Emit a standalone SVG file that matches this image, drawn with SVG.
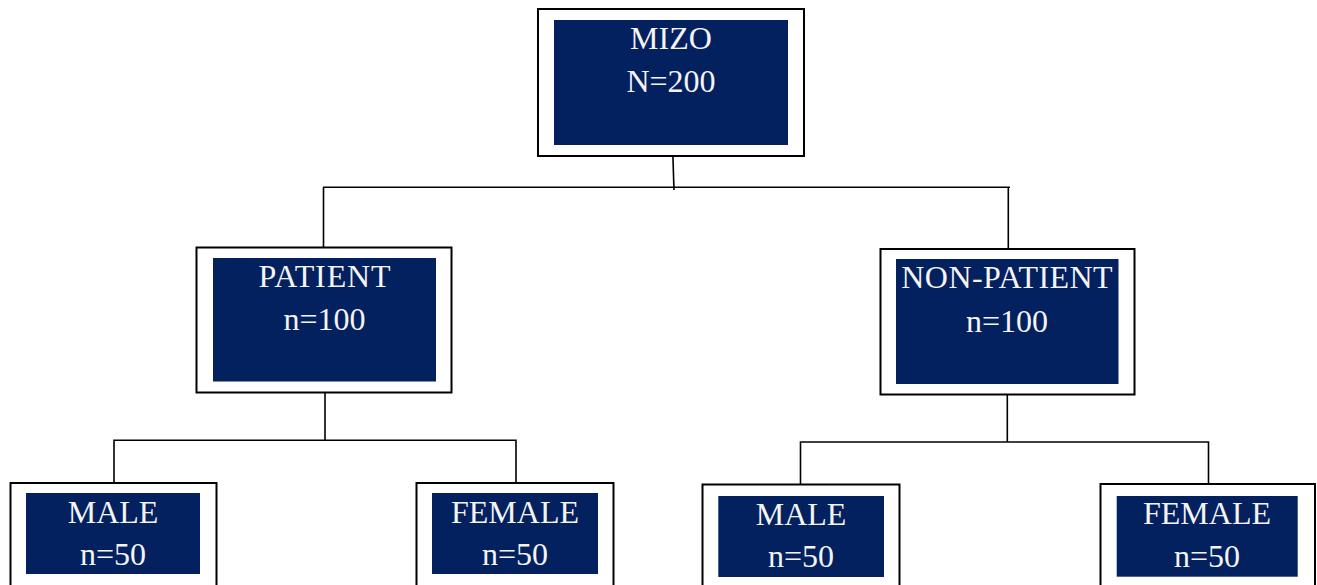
<svg xmlns="http://www.w3.org/2000/svg" width="1317" height="585" viewBox="0 0 1317 585">
<style>
.outer{fill:#ffffff;stroke:#000000;stroke-width:2}
.inner{fill:#02215e}
.t{font-family:"Liberation Serif","Times New Roman",serif;font-size:32px;fill:#f4f4f4;text-anchor:middle}
.c{fill:none;stroke:#000000;stroke-width:1.6}
</style>
<rect width="1317" height="585" fill="#ffffff"/>
<g id="connectors">
<path class="c" d="M672.7 150 L674 190"/>
<path class="c" d="M323 187.3 H1010"/>
<path class="c" d="M323.5 187.3 V247"/>
<path class="c" d="M1008.3 187.3 V249"/>
<path class="c" d="M325 393 V440.3"/>
<path class="c" d="M114 482 V440.3 H516 V482"/>
<path class="c" d="M1007.3 395 V442"/>
<path class="c" d="M800.5 484 V442 H1208.5 V484"/>
</g>
<g id="mizo">
<rect class="outer" x="538" y="9" width="266" height="147"/>
<rect class="inner" x="554" y="20" width="234" height="125"/>
<text class="t" x="671" y="49.3">MIZO</text>
<text class="t" x="671" y="91.7">N=200</text>
</g>
<g id="patient">
<rect class="outer" x="196.5" y="247.5" width="255" height="145"/>
<rect class="inner" x="213" y="258" width="223" height="123.5"/>
<text class="t" x="325" y="286.7" letter-spacing="0.9">PATIENT</text>
<text class="t" x="324.5" y="330">n=100</text>
</g>
<g id="nonpatient">
<rect class="outer" x="880.5" y="249" width="254" height="145.5"/>
<rect class="inner" x="896" y="259" width="222.5" height="125"/>
<text class="t" x="1007.2" y="288.3" letter-spacing="0.45">NON-PATIENT</text>
<text class="t" x="1007" y="331.7">n=100</text>
</g>
<g id="male1">
<rect class="outer" x="10.5" y="483" width="206" height="110"/>
<rect class="inner" x="26" y="493" width="174" height="81"/>
<text class="t" x="113" y="523">MALE</text>
<text class="t" x="113" y="564.5">n=50</text>
</g>
<g id="female1">
<rect class="outer" x="416.5" y="483" width="197" height="110"/>
<rect class="inner" x="432" y="493" width="166" height="81"/>
<text class="t" x="515" y="523.3">FEMALE</text>
<text class="t" x="515" y="565">n=50</text>
</g>
<g id="male2">
<rect class="outer" x="702.5" y="484.5" width="197" height="110"/>
<rect class="inner" x="718.3" y="496" width="165.7" height="81"/>
<text class="t" x="801" y="525">MALE</text>
<text class="t" x="801" y="566.7">n=50</text>
</g>
<g id="female2">
<rect class="outer" x="1100.5" y="484" width="214.5" height="110"/>
<rect class="inner" x="1116.7" y="496" width="181" height="80.7"/>
<text class="t" x="1207" y="524.3">FEMALE</text>
<text class="t" x="1207" y="566.7">n=50</text>
</g>
</svg>
